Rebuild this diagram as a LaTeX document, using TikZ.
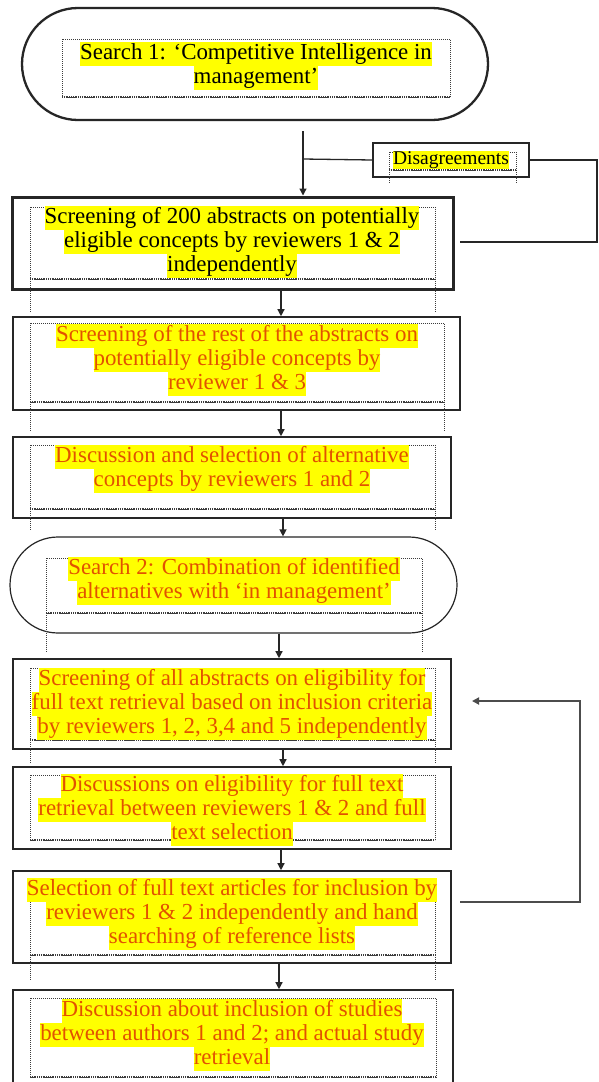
\documentclass[tikz,border=0pt]{standalone}
\usepackage{fontspec}
\setmainfont{Liberation Serif}
\usetikzlibrary{arrows.meta}
\definecolor{hly}{RGB}{255,255,0}
\definecolor{org}{RGB}{226,82,0}
\definecolor{dotc}{RGB}{60,60,60}
\newcommand{\hl}[1]{{\setlength{\fboxsep}{0pt}\colorbox{hly}{\rule[-6.5pt]{0pt}{24pt}#1}}}
\newcommand{\hls}[1]{{\setlength{\fboxsep}{0pt}\colorbox{hly}{\rule[-4.5pt]{0pt}{18pt}#1}}}
\begin{document}
\begin{tikzpicture}[x=1pt,y=-1pt,
  box/.style={draw=black!85, line width=1.6pt, rectangle, inner sep=0pt},
  stad/.style={draw=black!85, rectangle, inner sep=0pt},
  dots/.style={draw=dotc, line width=1pt, dash pattern=on 1pt off 1pt},
  dotb/.style={draw=dotc, line width=1.6pt, dash pattern=on 1pt off 0.8pt},
  txt/.style={align=center, inner sep=0pt, font=\fontsize{22.9}{24}\selectfont},
  txts/.style={align=center, inner sep=0pt, font=\fontsize{19.5}{18}\selectfont},
  arr/.style={draw=black!85, line width=1.3pt, -{Triangle[length=7pt,width=7pt]}},
  ln/.style={draw=black!85, line width=1.3pt}
]
\useasboundingbox (0,0) rectangle (599,1082);
\clip (0,0) rectangle (599,1082);
\fill[white] (0,0) rectangle (599,1082);

% coordinates for arrow x-positions
\coordinate (j) at (303,159);
\coordinate (x2) at (281,0);
\coordinate (x3) at (281,0);
\coordinate (x4) at (283,0);
\coordinate (x5) at (279,0);
\coordinate (x6) at (283,0);
\coordinate (x7) at (281,0);
\coordinate (x8) at (279,0);

% Search 1
\node[stad, line width=2.3pt, rounded corners=56pt, minimum width=466pt, minimum height=112pt] (s1) at (255,64) {};
\draw[dots] (62,39) rectangle (450,97);
\draw[dotb] (62,97) -- (450,97);
\node[txt] (t1) at (256,66) {\hl{Search 1: ‘Competitive Intelligence in}\\\hl{management’}};

% Disagreements
\node[box, line width=1.5pt, minimum width=156pt, minimum height=34pt] (d) at (451,160) {};
\draw[dots] (389,152) rectangle (516,170);
\draw[dotb] (389,170) -- (516,170);
\draw[dots] (389,170) -- (389,184) (516,170) -- (516,184);
\node[txts] (td) at (451,160) {\hls{Disagreements}};

% Box 2
\node[box, line width=3pt, minimum width=441pt, minimum height=92pt] (b2) at (232.5,243) {};
\draw[dots] (30,207) rectangle (435,279);
\draw[dotb] (30,279) -- (435,279);
\draw[dots] (30,279) -- (30,313) (435,279) -- (435,313);
\node[txt] (t2) at (232,242) {\hl{Screening of 200 abstracts on potentially}\\\hl{eligible concepts by reviewers 1 \& 2}\\\hl{independently}};

% connectors at top
\draw[arr] ([yshift=-10pt]s1.south -| j) -- (b2.north -| j);
\draw[ln] (j) -- (d.west);
\coordinate (r1) at (597,158);
\coordinate (r2) at (597,242);
\coordinate (r3) at (460,242);
\draw[ln] (d.east) -- (d.east -| r1) -- (r2) -- (r3);

% Box 3
\node[box, minimum width=447pt, minimum height=93pt] (b3) at (236.5,363.5) {};
\draw[dots] (30,323) rectangle (444,402);
\draw[dotb] (30,402) -- (444,402);
\draw[dots] (30,402) -- (30,432) (444,402) -- (444,432);
\node[txt, text=org] (t3) at (237,359.5) {\hl{Screening of the rest of the abstracts on}\\\hl{potentially eligible concepts by}\\\hl{reviewer 1 \& 3}};

% Box 4
\node[box, minimum width=438pt, minimum height=81pt] (b4) at (232,477.5) {};
\draw[dots] (30,445) rectangle (435,509);
\draw[dotb] (30,509) -- (435,509);
\draw[dots] (30,509) -- (30,530) (435,509) -- (435,530);
\node[txt, text=org] (t4) at (232,468.5) {\hl{Discussion and selection of alternative}\\\hl{concepts by reviewers 1 and 2}};

% Search 2
\node[stad, line width=1.2pt, rounded corners=48pt, minimum width=447pt, minimum height=96pt] (s2) at (233.5,585) {};
\draw[dots] (46,558) rectangle (422,613);
\draw[dotb] (46,613) -- (422,613);
\draw[dots] (46,613) -- (46,652) (422,613) -- (422,652);
\node[txt, text=org] (t5) at (234,580.5) {\hl{Search 2: Combination of identified}\\\hl{alternatives with ‘in management’}};

% Box 5
\node[box, minimum width=438pt, minimum height=90pt] (b5) at (232,704) {};
\draw[dots] (30,668) rectangle (435,740);
\draw[dotb] (30,740) -- (435,740);
\draw[dots] (30,740) -- (30,763) (435,740) -- (435,763);
\node[txt, text=org] (t6) at (232,703.5) {\hl{Screening of all abstracts on eligibility for}\\\hl{full text retrieval based on inclusion criteria}\\\hl{by reviewers 1, 2, 3,4 and 5 independently}};

% Box 6
\node[box, minimum width=438pt, minimum height=82pt] (b6) at (232,808) {};
\draw[dots] (30,775) rectangle (435,840);
\draw[dotb] (30,840) -- (435,840);
\node[txt, text=org] (t7) at (232,810) {\hl{Discussions on eligibility for full text}\\\hl{retrieval between reviewers 1 \& 2 and full}\\\hl{text selection}};

% Box 7
\node[box, minimum width=438pt, minimum height=92pt] (b7) at (232,917) {};
\draw[dots] (30,878) rectangle (435,955);
\draw[dotb] (30,955) -- (435,955);
\draw[dots] (30,955) -- (30,980) (435,955) -- (435,980);
\node[txt, text=org] (t8) at (232,913.5) {\hl{Selection of full text articles for inclusion by}\\\hl{reviewers 1 \& 2 independently and hand}\\\hl{searching of reference lists}};

% Box 8
\node[box, minimum width=440pt, minimum height=105pt] (b8) at (233,1042.5) {};
\draw[dots] (30,998) rectangle (436,1077);
\draw[dotb] (30,1077) -- (436,1077);
\node[txt, text=org] (t9) at (232,1034.5) {\hl{Discussion about inclusion of studies}\\\hl{between authors 1 and 2; and actual study}\\\hl{retrieval}};

% vertical arrows
\draw[arr] (b2.south -| x2) -- (b3.north -| x2);
\draw[arr] (b3.south -| x3) -- (b4.north -| x3);
\draw[arr] (b4.south -| x4) -- (s2.north -| x4);
\draw[arr] (s2.south -| x5) -- (b5.north -| x5);
\draw[arr] (b5.south -| x6) -- (b6.north -| x6);
\draw[arr] (b6.south -| x7) -- (b7.north -| x7);
\draw[arr] (b7.south -| x8) -- (b8.north -| x8);

% feedback loop
\coordinate (f1) at (460,902);
\coordinate (f2) at (580,902);
\coordinate (f3) at (580,701);
\coordinate (f4) at (472,701);
\draw[arr, line width=1.8pt, draw=black!70] (f1) -- (f2) -- (f3) -- (f4);
\end{tikzpicture}
\end{document}
